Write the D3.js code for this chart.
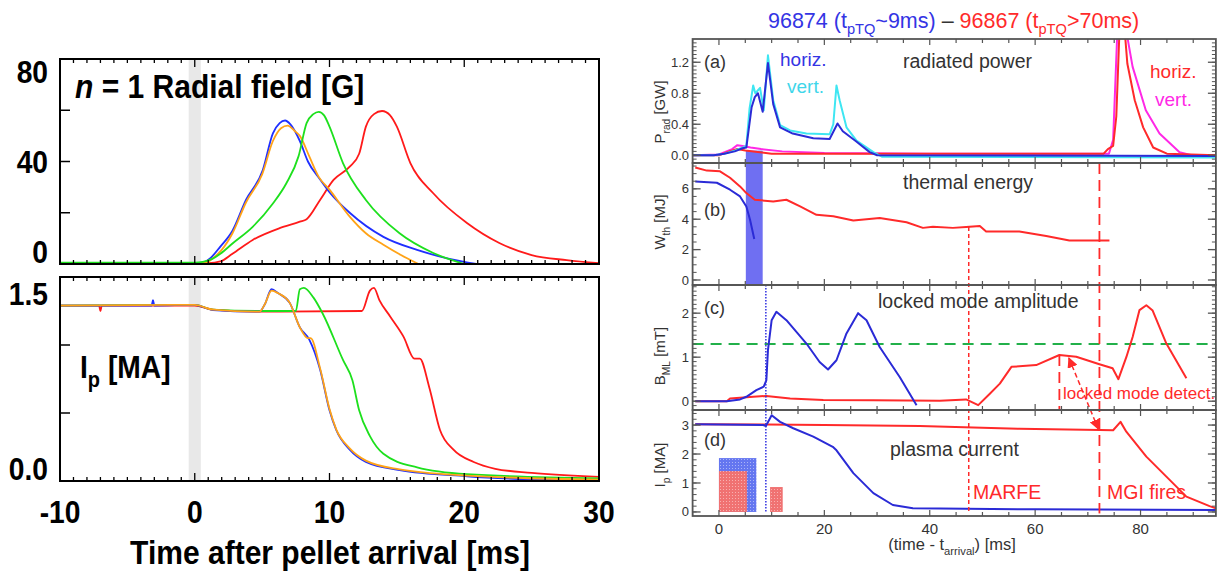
<!DOCTYPE html>
<html>
<head>
<meta charset="utf-8">
<script src="https://cdn.jsdelivr.net/npm/d3@7"></script>
<style>
body { margin: 0; background: #fff; }
svg { display: block; }
</style>
</head>
<body>
<script>
// ---------- left figure: n=1 radial field and Ip vs time after pellet arrival ----------
var bfBlue = [[-10,0.3],[0,0.3],[0.5,0.5],[1.2,2.5],[1.9,6.8],[2.8,13],[3.8,25],[5.05,36.7],[5.8,51],[6.3,55],[6.7,56],[7.1,54.5],[7.8,48],[8.4,40],[9.3,33],[10,28],[11.5,20],[14,10.6],[16.5,5.5],[18.9,2],[20.9,0]];
var bfOrange = [[-10,0.2],[0,0.2],[0.8,0.5],[1.4,2.5],[2,5.5],[2.8,12],[3.8,24],[5,35],[5.8,48],[6.4,53],[6.9,54],[7.4,52],[7.8,50],[8.5,42],[9.2,34],[10,29],[11.5,18.5],[12.7,12],[14,7.5],[15.3,3.5],[16.6,0]];
var bfGreen = [[-10,0.5],[0,0.5],[0.6,0.8],[1.3,2],[1.9,4],[2.8,8],[4.3,14.5],[5.8,23.6],[6.8,31.5],[7.7,42],[8.3,55],[8.8,58.5],[9.2,59.4],[9.6,58],[10,53.6],[11,39.4],[12.7,25],[15.2,12],[17.7,4.3],[20,0]];
var bfRed = [[-10,0.2],[0,0.2],[1,0.3],[1.9,1],[2.8,4],[4.3,9.4],[6.3,14],[7.8,16.5],[8.3,17.5],[9.3,25],[10.3,32.8],[11.5,38],[12.2,43],[12.7,53.6],[13.3,58.5],[13.9,59.7],[14.5,58],[15,53.6],[16,39.4],[17.7,27.6],[20.2,16],[22.6,8.2],[25,3.5],[27.6,1.5],[30,0.3]];

var ipBlue = [[-10,1.29],[-3.2,1.29],[-3.1,1.33],[-3,1.29],[0,1.295],[1.35,1.257],[4.8,1.245],[5.2,1.3],[5.7,1.41],[6.2,1.38],[7.05,1.31],[7.8,1.13],[8.5,1.04],[9.3,0.82],[10,0.52],[10.5,0.375],[11.5,0.23],[12.7,0.14],[15.2,0.08],[20.2,0.035],[30,0.0]];
var ipOrange = [[-10,1.29],[0,1.295],[1.35,1.26],[4.8,1.245],[5.2,1.3],[5.7,1.4],[6.2,1.38],[7.05,1.31],[7.8,1.13],[8.4,1.05],[8.6,1.05],[9.3,0.83],[10,0.53],[10.5,0.38],[11.5,0.24],[12.7,0.15],[15.2,0.085],[20.2,0.04],[30,0.01]];
var ipGreen = [[-10,1.29],[0,1.295],[1.35,1.26],[4.8,1.25],[7.5,1.25],[7.8,1.41],[8.1,1.42],[8.8,1.35],[9.5,1.23],[11,0.89],[11.7,0.74],[12.2,0.52],[13,0.33],[14,0.2],[16.5,0.1],[20.2,0.05],[30,0.02]];
var ipRed = [[-10,1.29],[-7.1,1.29],[-7,1.25],[-6.9,1.29],[0,1.29],[1.35,1.26],[4.8,1.245],[12.4,1.25],[13,1.4],[13.3,1.42],[13.7,1.33],[14.5,1.21],[15.5,1.06],[16.3,0.9],[16.7,0.9],[17.4,0.69],[18.2,0.375],[19.2,0.23],[20.7,0.14],[22.3,0.09],[25,0.06],[30,0.03]];

var leftXTicks = [-10, 0, 10, 20, 30];
var bfTickLabels = [0, 40, 80];
var ipTickLabels = [0, 1.5];

// ---------- right figure: shots 96874 / 96867 ----------
var pradHorizBlue = [[-5,0],[-1,0],[1,0.02],[3,0.05],[4.5,0.09],[5.2,0.1],[6.2,0.62],[6.8,0.75],[7.4,0.8],[8.3,0.56],[9.3,1.19],[10.3,0.66],[11.6,0.36],[14,0.28],[17.9,0.22],[21,0.21],[22.5,0.41],[23.5,0.31],[26,0.18],[28.6,0.04],[30,0],[94.3,-0.01]];
var pradVertBlue = [[-5,0],[-1,0],[1,0.02],[3,0.06],[4.5,0.1],[5.2,0.12],[5.8,0.6],[6.5,0.9],[6.9,0.8],[7.8,0.87],[8.5,0.58],[9.3,1.29],[10.3,0.71],[11.6,0.39],[13.5,0.32],[16.6,0.28],[21,0.27],[21.7,0.4],[22.3,0.9],[22.9,0.71],[24.2,0.36],[26.1,0.19],[29.3,0.04],[31,-0.02],[94.3,-0.03]];
var pradHorizRed = [[-5,0],[0,0],[2,0.05],[3.5,0.08],[5,0.06],[10,0.02],[73,0.02],[73.8,0.08],[74.8,0.12],[75.4,0.5],[76,1.6],[77,1.6],[77.5,1.18],[78.9,0.71],[80.5,0.36],[82.4,0.1],[85,0.02],[94.3,0]];
var pradVertRed = [[-5,0],[0,0.01],[2.5,0.08],[3.5,0.13],[4.5,0.12],[6,0.1],[8,0.08],[12,0.05],[20,0.03],[40,0.02],[74,0.02],[74.8,0.2],[75.6,1.6],[77.3,1.6],[78.5,1.14],[81,0.58],[83.6,0.28],[87.4,0.04],[89.7,0],[94.3,0]];

var wthRed = [[-4.5,7.4],[-2.3,7.2],[0.2,7.15],[2.1,6.73],[4,6.16],[5.2,5.72],[6.8,5.28],[10.3,5.17],[12.8,5.28],[15.4,4.84],[18.5,4.29],[21.7,4.2],[25.5,3.91],[30.5,4.08],[35.6,3.8],[38.7,3.43],[40.6,3.5],[44.4,3.43],[46.9,3.48],[49.5,3.55],[50.7,3.19],[57,3.19],[62.1,2.9],[66.5,2.6],[71.6,2.6],[74.1,2.6]];
var wthBlue = [[-4.5,6.49],[-0.4,6.4],[2.1,5.94],[4,5.5],[5.2,4.84],[5.9,3.96],[6.7,2.7]];

var bmlBlue = [[-4.5,0],[1.5,0],[4,0.04],[5.2,0.1],[7.1,0.25],[8.5,0.33],[9,0.48],[9.3,1.16],[10,1.84],[10.9,2.03],[12.8,1.84],[16.6,1.31],[19.1,0.89],[20.7,0.72],[22.3,0.93],[24.2,1.54],[26.4,2.0],[28,1.84],[30.5,1.23],[34.3,0.55],[37.5,-0.09]];
var bmlRed = [[-4.5,0],[1.5,0],[2.1,0.06],[6.5,0.1],[9,0.12],[13.5,0.06],[19.8,0.03],[29.3,0.02],[41.9,0.01],[46.9,0.04],[49.2,-0.09],[51.4,0.17],[53.3,0.4],[55.5,0.78],[60.2,0.82],[64.6,1.05],[67.8,1.01],[72.2,0.84],[74.7,0.75],[75.8,0.5],[77.3,1.0],[78.5,1.46],[79.8,2.07],[81.1,2.18],[82.3,2.06],[84.9,1.31],[88.7,0.52]];
var bmlThreshold = 1.3;

var ipRBlue = [[-4.5,3.03],[8.4,3.0],[8.9,2.97],[10,3.34],[11.6,3.11],[14.1,2.89],[17.9,2.6],[21.6,2.25],[22.2,2.15],[25.5,1.34],[29.3,0.65],[33,0.24],[36.8,0.13],[41.9,0.12],[60,0.09],[94.3,0.07]];
var ipRRed = [[-4.5,3.03],[9,3.02],[20,3.0],[38.1,2.97],[57,2.87],[72.3,2.83],[74.8,2.82],[76.2,3.11],[77.3,2.77],[81.1,1.91],[84.9,1.22],[88.7,0.53],[93.1,0.2],[94.3,0.13]];

// gas/pellet bars in panel (d): start, end [ms], height [MA]
var barBlue = [[0, 7.1, 1.86]];
var barRed = [[0, 5.3, 1.41], [9.7, 12.1, 0.86]];

var tpTQBlue = 8.9, tMarfe = 47.4, tLockDetect = 64.6, tMgi = 72.2;
var rightXTicks = [0, 20, 40, 60, 80];

var svg = d3.select("body").append("svg").attr("width", 1217).attr("height", 574);
var defs = svg.append("defs");

var boldFont = "'Liberation Sans',Arial,sans-serif";
var plain = "'Liberation Sans',Arial,sans-serif";

// narrow bold text for the left figure (font is condensed there)
function boldText(x, y, size, anchor) {
    return svg.append("text").attr("transform", "translate(" + x + "," + y + ") scale(0.91,1)")
        .attr("text-anchor", anchor || "start").attr("font-family", boldFont)
        .attr("font-weight", "bold").attr("font-size", size);
}

// ================= LEFT =================
var xL = d3.scaleLinear().domain([-10, 30]).range([60, 599]);
var yBf = d3.scaleLinear().domain([0, 80]).range([264, 59]);
var yIp = d3.scaleLinear().domain([0, 1.5]).range([481, 277]);

function leftPanel(id, y, series, minorY, labels, labelOff, fmt) {
    var g = svg.append("g");
    var top = y.range()[1], bot = y.range()[0];
    defs.append("clipPath").attr("id", id).append("rect")
        .attr("x", xL(-10)).attr("y", top).attr("width", xL(30) - xL(-10)).attr("height", bot - top);
    g.append("rect").attr("x", xL(-0.45)).attr("y", top)
        .attr("width", xL(0.45) - xL(-0.45)).attr("height", bot - top).attr("fill", "#e8e8e8");
    var line = d3.line().x(function (d) { return xL(d[0]); }).y(function (d) { return y(d[1]); }).curve(d3.curveMonotoneX);
    series.forEach(function (s) {
        g.append("path").datum(s[0]).attr("d", line).attr("fill", "none")
            .attr("stroke", s[1]).attr("stroke-width", 1.8).attr("clip-path", "url(#" + id + ")");
    });
    g.append("rect").attr("x", xL(-10)).attr("y", top).attr("width", xL(30) - xL(-10)).attr("height", bot - top)
        .attr("fill", "none").attr("stroke", "#000").attr("stroke-width", 2);
    d3.range(-10, 31).forEach(function (t) {
        var len = t % 10 === 0 ? 8 : 4;
        g.append("line").attr("x1", xL(t)).attr("x2", xL(t)).attr("y1", bot).attr("y2", bot - len).attr("stroke", "#000").attr("stroke-width", 1.3);
        g.append("line").attr("x1", xL(t)).attr("x2", xL(t)).attr("y1", top).attr("y2", top + len).attr("stroke", "#000").attr("stroke-width", 1.3);
    });
    minorY.forEach(function (v) {
        g.append("line").attr("x1", xL(-10)).attr("x2", xL(-10) + 10).attr("y1", y(v)).attr("y2", y(v)).attr("stroke", "#000").attr("stroke-width", 1.5);
    });
    labels.forEach(function (v, i) {
        boldText(48, y(v) + labelOff[i] + 11, 31, "end").text(d3.format(fmt)(v));
    });
}

leftPanel("clipBf", yBf, [[bfRed, "#ff1a1a"], [bfBlue, "#1f2fff"], [bfOrange, "#ffa317"], [bfGreen, "#1de01d"]],
    [20, 40, 60], bfTickLabels, [-12, 0, 13], "d");
leftPanel("clipIp", yIp, [[ipRed, "#ff1a1a"], [ipGreen, "#1de01d"], [ipBlue, "#1f2fff"], [ipOrange, "#ffa317"]],
    [0.5, 1.0], ipTickLabels, [-12, 17], ".1f");

leftXTicks.forEach(function (t) {
    boldText(xL(t), 523, 31, "middle").text(t);
});
boldText(330, 564, 33, "middle").text("Time after pellet arrival [ms]");

var t1 = boldText(75, 98, 33);
t1.append("tspan").attr("font-style", "italic").text("n");
t1.append("tspan").text(" = 1 Radial field [G]");

var t2 = boldText(80, 378, 31);
t2.append("tspan").text("I");
t2.append("tspan").attr("font-size", 22).attr("dy", 9).text("p");
t2.append("tspan").attr("dy", -9).text(" [MA]");

// ================= RIGHT =================
var xR = d3.scaleLinear().domain([-5, 94.3]).range([692.6, 1215.9]);
var yA = d3.scaleLinear().domain([-0.1, 1.5]).range([163, 39]);
var yW = d3.scaleLinear().domain([-0.33, 7.7]).range([285, 163]);
var yC = d3.scaleLinear().domain([-0.2, 2.64]).range([410, 285]);
var yD = d3.scaleLinear().domain([-0.14, 3.52]).range([516, 410]);

var cBlue = "#2b2bd6", cCyan = "#3ee6f2", cRed = "#ff2a2a", cMag = "#ff28e6", cText = "#333";
var axisCol = "#555";

var panels = [
    { id: "pa", y: yA, major: [0, 0.4, 0.8, 1.2], minorStep: 0.05, fmt: ".1f" },
    { id: "pb", y: yW, major: [0, 2, 4, 6], minorStep: 0.5, fmt: "d" },
    { id: "pc", y: yC, major: [0, 1, 2], minorStep: 0.1, fmt: "d" },
    { id: "pd", y: yD, major: [0, 1, 2, 3], minorStep: 0.2, fmt: "d" }
];
panels.forEach(function (p) {
    var top = p.y.range()[1], bot = p.y.range()[0];
    defs.append("clipPath").attr("id", p.id).append("rect")
        .attr("x", xR(-5)).attr("y", top).attr("width", xR(94.3) - xR(-5)).attr("height", bot - top);
});

function rLine(y) {
    return d3.line().x(function (d) { return xR(d[0]); }).y(function (d) { return y(d[1]); });
}
function drawR(data, y, col, clip, w) {
    svg.append("path").datum(data).attr("d", rLine(y)).attr("fill", "none")
        .attr("stroke", col).attr("stroke-width", w || 2).attr("stroke-linejoin", "round")
        .attr("clip-path", "url(#" + clip + ")");
}

// pellet shaded band across (a)-(b)
svg.append("rect").attr("x", xR(5.1)).attr("width", xR(8.3) - xR(5.1))
    .attr("y", yA(0.06)).attr("height", yW(-0.33) - yA(0.06)).attr("fill", "#6f6ff2");

// patterns for panel (d) bars
function dotPattern(id, base, dot) {
    var pt = defs.append("pattern").attr("id", id).attr("patternUnits", "userSpaceOnUse").attr("width", 3).attr("height", 3);
    pt.append("rect").attr("width", 3).attr("height", 3).attr("fill", base);
    pt.append("rect").attr("width", 1).attr("height", 1).attr("fill", dot);
}
dotPattern("dotBlue", "#6476f0", "#aab4f7");
dotPattern("dotRed", "#f07272", "#f8b0b0");

barBlue.forEach(function (b) {
    svg.append("rect").attr("x", xR(b[0])).attr("width", xR(b[1]) - xR(b[0]))
        .attr("y", yD(b[2])).attr("height", yD(0) - yD(b[2])).attr("fill", "url(#dotBlue)");
});
barRed.forEach(function (b) {
    svg.append("rect").attr("x", xR(b[0])).attr("width", xR(b[1]) - xR(b[0]))
        .attr("y", yD(b[2])).attr("height", yD(0) - yD(b[2])).attr("fill", "url(#dotRed)");
});

// threshold
svg.append("line").attr("x1", xR(-5)).attr("x2", xR(94.3)).attr("y1", yC(bmlThreshold)).attr("y2", yC(bmlThreshold))
    .attr("stroke", "#22b04a").attr("stroke-width", 1.8).attr("stroke-dasharray", "11,7");

// data lines
drawR(pradVertRed, yA, cMag, "pa");
drawR(pradHorizRed, yA, cRed, "pa");
drawR(pradVertBlue, yA, cCyan, "pa");
drawR(pradHorizBlue, yA, cBlue, "pa");
drawR(wthRed, yW, cRed, "pb");
drawR(wthBlue, yW, cBlue, "pb");
drawR(bmlRed, yC, cRed, "pc");
drawR(bmlBlue, yC, cBlue, "pc");
drawR(ipRRed, yD, cRed, "pd");
drawR(ipRBlue, yD, cBlue, "pd");

// vertical markers
svg.append("line").attr("x1", xR(tpTQBlue)).attr("x2", xR(tpTQBlue)).attr("y1", yC.range()[1]).attr("y2", yD(0))
    .attr("stroke", "#3030e0").attr("stroke-width", 1.5).attr("stroke-dasharray", "1.5,1.5");
svg.append("line").attr("x1", xR(tMarfe)).attr("x2", xR(tMarfe)).attr("y1", yW(3.48)).attr("y2", yD(0))
    .attr("stroke", cRed).attr("stroke-width", 1.5).attr("stroke-dasharray", "4,3");
svg.append("line").attr("x1", xR(tMgi)).attr("x2", xR(tMgi)).attr("y1", yW.range()[1]).attr("y2", yD(-0.05))
    .attr("stroke", cRed).attr("stroke-width", 1.8).attr("stroke-dasharray", "11,6");
svg.append("line").attr("x1", xR(tLockDetect)).attr("x2", xR(tLockDetect)).attr("y1", yC(1.05)).attr("y2", yC.range()[0])
    .attr("stroke", cRed).attr("stroke-width", 1.8).attr("stroke-dasharray", "11,6");

// double arrow "locked mode detect."
defs.append("marker").attr("id", "arr").attr("viewBox", "0 0 10 10").attr("refX", 9).attr("refY", 5)
    .attr("markerWidth", 7).attr("markerHeight", 7).attr("orient", "auto-start-reverse")
    .append("path").attr("d", "M0,0L10,5L0,10z").attr("fill", cRed);
svg.append("line").attr("x1", xR(66.4)).attr("y1", yC(0.98)).attr("x2", xR(72.0)).attr("y2", yD(2.86))
    .attr("stroke", cRed).attr("stroke-width", 1.5).attr("stroke-dasharray", "5,3")
    .attr("marker-start", "url(#arr)").attr("marker-end", "url(#arr)");

// frames and ticks
panels.forEach(function (p) {
    var top = p.y.range()[1], bot = p.y.range()[0];
    var x0 = xR(-5), x1 = xR(94.3);
    var g = svg.append("g").attr("stroke", axisCol);
    g.append("rect").attr("x", x0).attr("y", top).attr("width", x1 - x0).attr("height", bot - top)
        .attr("fill", "none").attr("stroke-width", 1.8);
    d3.range(-5, 95, 5).forEach(function (t) {
        var len = t % 20 === 0 ? 6 : 4;
        g.append("line").attr("x1", xR(t)).attr("x2", xR(t)).attr("y1", bot).attr("y2", bot - len).attr("stroke-width", 1.2);
        g.append("line").attr("x1", xR(t)).attr("x2", xR(t)).attr("y1", top).attr("y2", top + len).attr("stroke-width", 1.2);
    });
    var d0 = p.y.domain();
    var minors = d3.range(Math.ceil(d0[0] / p.minorStep) * p.minorStep, d0[1], p.minorStep);
    minors.forEach(function (v) {
        g.append("line").attr("x1", x0).attr("x2", x0 + 4).attr("y1", p.y(v)).attr("y2", p.y(v)).attr("stroke-width", 1);
        g.append("line").attr("x1", x1).attr("x2", x1 - 4).attr("y1", p.y(v)).attr("y2", p.y(v)).attr("stroke-width", 1);
    });
    p.major.forEach(function (v) {
        g.append("line").attr("x1", x0).attr("x2", x0 + 8).attr("y1", p.y(v)).attr("y2", p.y(v)).attr("stroke-width", 1.3);
        g.append("line").attr("x1", x1).attr("x2", x1 - 8).attr("y1", p.y(v)).attr("y2", p.y(v)).attr("stroke-width", 1.3);
        svg.append("text").attr("x", 689).attr("y", p.y(v)).attr("dy", "0.35em").attr("text-anchor", "end")
            .attr("font-family", plain).attr("font-size", 13).attr("fill", cText)
            .text(d3.format(p.fmt)(v));
    });
});

rightXTicks.forEach(function (t) {
    svg.append("text").attr("x", xR(t)).attr("y", 534).attr("text-anchor", "middle")
        .attr("font-family", plain).attr("font-size", 15).attr("fill", cText).text(t);
});

function subText(x, y, size, parts, anchor, rot) {
    var t = svg.append("text").attr("font-family", plain).attr("font-size", size)
        .attr("text-anchor", anchor || "start");
    if (rot) t.attr("transform", "translate(" + x + "," + y + ") rotate(-90)");
    else t.attr("x", x).attr("y", y);
    var shift = 0;
    parts.forEach(function (p) {
        var ts = t.append("tspan").attr("fill", p.c || cText).text(p.s);
        var target = p.sub ? Math.round(size * 0.3) : 0;
        if (p.sub) ts.attr("font-size", size * 0.68);
        if (target !== shift) { ts.attr("dy", target - shift); shift = target; }
    });
    return t;
}

// title
subText(768, 28, 21.5, [
    { s: "96874 (t", c: "#3434e4" }, { s: "pTQ", c: "#3434e4", sub: true }, { s: "~9ms)", c: "#3434e4" },
    { s: " – ", c: "#333" },
    { s: "96867 (t", c: cRed }, { s: "pTQ", c: cRed, sub: true }, { s: ">70ms)", c: cRed }
]);

// axis titles
subText(665, 112, 15, [{ s: "P" }, { s: "rad", sub: true }, { s: " [GW]" }], "middle", true);
subText(665, 222, 15, [{ s: "W" }, { s: "th", sub: true }, { s: " [MJ]" }], "middle", true);
subText(665, 356, 15, [{ s: "B" }, { s: "ML", sub: true }, { s: " [mT]" }], "middle", true);
subText(665, 465, 15, [{ s: "I" }, { s: "p", sub: true }, { s: " [MA]" }], "middle", true);
subText(952, 550, 16.5, [{ s: "(time - t" }, { s: "arrival", sub: true }, { s: ") [ms]" }], "middle");

// panel labels
function lab(x, y, s, col, size) {
    svg.append("text").attr("x", x).attr("y", y).attr("font-family", plain)
        .attr("font-size", size || 19.5).attr("fill", col || cText).text(s);
}
lab(704, 68, "(a)", null, 18);
lab(704, 216, "(b)", null, 18);
lab(704, 314, "(c)", null, 18);
lab(704, 446, "(d)", null, 18);
lab(903, 68, "radiated power");
lab(903, 189, "thermal energy");
lab(878, 308, "locked mode amplitude");
lab(890, 456, "plasma current");
lab(780, 66, "horiz.", "#3434e4", 19);
lab(787, 93, "vert.", "#3fd6ea", 19);
lab(1150, 78, "horiz.", cRed, 19);
lab(1155, 106, "vert.", cMag, 19);
lab(1063, 399, "locked mode detect.", cRed, 17);
lab(973, 499, "MARFE", cRed, 19.5);
lab(1107, 499, "MGI fires", cRed, 19.5);
</script>
</body>
</html>
